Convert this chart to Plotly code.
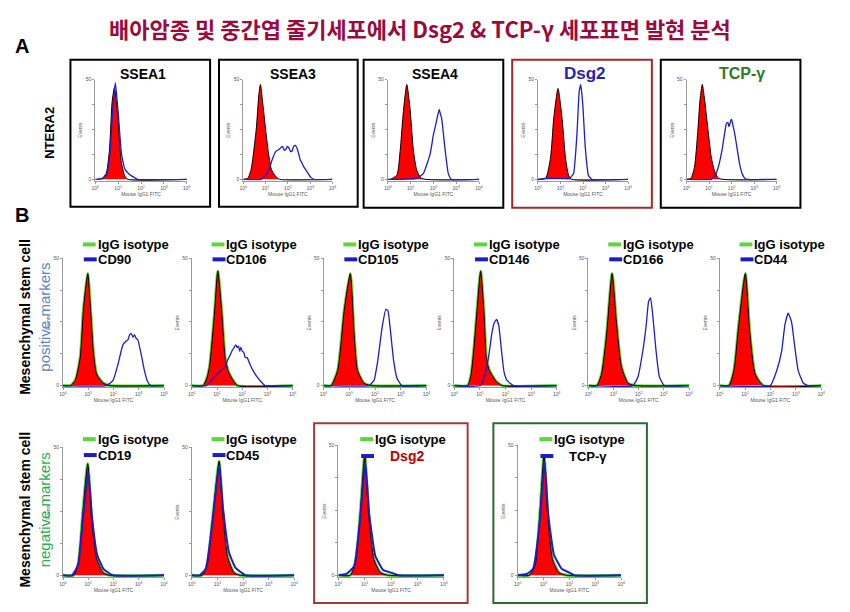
import plotly.graph_objects as go

# page body has an 8px margin: the figure is drawn 8px in from the window edge
PAGE_W, PAGE_H, OFF = 850, 612, 8
W, H = PAGE_W - OFF, PAGE_H - OFF

# ---------------- DATA (x in log10 decades of FITC intensity, y = relative events) -------------
# Panel A : NTERA2
ssea1_iso_x = [0.1, 0.3, 0.48, 0.62, 0.74, 0.84, 0.99, 1.13, 1.28, 1.42, 4.0]
ssea1_iso_y = [0, 1, 6, 29, 78, 92, 61, 19, 4, 0, 0]
ssea1_x = [0.0, 0.35, 0.5, 0.65, 0.78, 0.88, 1.0, 1.15, 1.3, 1.5, 1.7, 1.86, 4.0]
ssea1_y = [0, 1, 5, 28, 75, 97, 68, 25, 10, 5, 2, 0, 0]

ssea3_iso_x = [0.0, 0.2, 0.35, 0.58, 0.7, 0.77, 0.88, 1.0, 1.12, 1.26, 1.45, 1.63, 4.0]
ssea3_iso_y = [0, 1, 10, 50, 85, 95, 75, 50, 28, 10, 3, 0, 0]
ssea3_x = [0.0, 0.79, 1.0, 1.16, 1.3, 1.46, 1.6, 1.76, 1.84, 1.91, 1.98, 2.06, 2.12, 2.18, 2.26,
           2.33, 2.43, 2.55, 2.64, 2.73, 2.88, 3.03, 3.18, 4.0]
ssea3_y = [0, 0, 4, 10, 20, 28, 30, 33, 29, 30, 33, 31, 28, 28, 33, 34, 30, 20, 16, 12, 7, 2, 0, 0]

ssea4_iso_x = [0.0, 0.1, 0.39, 0.54, 0.68, 0.83, 0.97, 1.12, 1.27, 1.48, 4.0]
ssea4_iso_y = [0, 0, 4, 29, 68, 95, 71, 29, 9, 1, 0]
ssea4_x = [0.0, 1.27, 1.56, 1.85, 2.0, 2.07, 2.15, 2.25, 2.3, 2.36, 2.5, 2.65, 2.79, 4.0]
ssea4_y = [0, 1, 6, 25, 45, 52, 60, 70, 66, 61, 32, 6, 0, 0]

dsg2a_iso_x = [0.0, 0.34, 0.56, 0.7, 0.89, 1.07, 1.22, 1.36, 1.5, 4.0]
dsg2a_iso_y = [0, 1, 22, 61, 91, 61, 22, 4, 0, 0]
dsg2a_x = [0.0, 0.4, 1.0, 1.4, 1.58, 1.73, 1.83, 1.9, 1.99, 2.1, 2.24, 2.39, 4.0]
dsg2a_y = [0, 1, 1, 1, 6, 45, 88, 95, 75, 32, 4, 0, 0]

tcpa_iso_x = [0.0, 0.19, 0.35, 0.5, 0.6, 0.7, 0.8, 0.96, 1.1, 1.25, 1.43, 4.0]
tcpa_iso_y = [0, 1, 12, 48, 80, 95, 80, 48, 22, 8, 1, 0]
tcpa_x = [0.0, 1.1, 1.19, 1.3, 1.43, 1.58, 1.69, 1.77, 1.84, 1.88, 1.92, 1.96, 2.0, 2.05, 2.1,
          2.16, 2.25, 2.36, 2.48, 2.59, 2.7, 4.0]
tcpa_y = [0, 0, 2, 5, 14, 30, 46, 56, 57, 53, 55, 59, 60, 55, 50, 43, 30, 15, 5, 1, 0, 0]

# Panel B row 1 : MSC positive markers
cd90_iso_x = [0.0, 0.29, 0.48, 0.68, 0.81, 0.98, 1.09, 1.2, 1.33, 1.59, 1.85, 4.0]
cd90_iso_y = [0, 0, 4, 22, 60, 88, 60, 27, 9, 2, 0, 0]
cd90_x = [0.0, 1.72, 1.98, 2.18, 2.37, 2.5, 2.57, 2.64, 2.7, 2.77, 2.83, 2.9, 2.96, 3.09, 3.22, 3.35, 3.48, 4.0]
cd90_y = [0, 0, 4, 17, 32, 35, 36, 40, 41, 38, 40, 37, 36, 25, 12, 3, 0, 0]

cd106_iso_x = [0.0, 0.45, 0.6, 0.71, 0.9, 1.03, 1.19, 1.32, 1.45, 1.61, 1.81, 4.0]
cd106_iso_y = [0, 0, 6, 16, 57, 90, 57, 22, 11, 5, 0, 0]
cd106_x = [0.0, 0.58, 0.77, 0.97, 1.1, 1.16, 1.29, 1.42, 1.52, 1.61, 1.68, 1.74, 1.8, 1.85, 1.9, 1.94,
           2.0, 2.06, 2.12, 2.19, 2.32, 2.45, 2.58, 2.74, 2.9, 4.0]
cd106_y = [0, 0, 4, 8, 11, 12, 14, 20, 24, 28, 30, 32, 30, 31, 27, 30, 27, 26, 22, 22, 16, 11, 7, 3, 0, 0]

cd105_iso_x = [0.0, 0.29, 0.55, 0.81, 1.04, 1.19, 1.32, 1.57, 1.83, 4.0]
cd105_iso_y = [0, 0, 12, 60, 88, 40, 12, 2, 0, 0]
cd105_x = [0.0, 1.76, 1.96, 2.11, 2.27, 2.42, 2.5, 2.59, 2.72, 2.85, 3.04, 4.0]
cd105_y = [0, 0, 4, 20, 45, 60, 59, 45, 20, 6, 0, 0]

cd146_iso_x = [0.0, 0.52, 0.65, 0.77, 0.9, 1.03, 1.16, 1.25, 1.35, 1.48, 1.65, 1.87, 4.0]
cd146_iso_y = [0, 0, 8, 30, 62, 90, 57, 22, 13, 8, 3, 0, 0]
cd146_x = [0.0, 1.03, 1.23, 1.35, 1.46, 1.55, 1.65, 1.74, 1.83, 1.94, 2.06, 2.32, 4.0]
cd146_y = [0, 0, 11, 24, 40, 49, 52, 47, 30, 11, 4, 0, 0]

cd166_iso_x = [0.0, 0.33, 0.52, 0.72, 0.94, 1.11, 1.31, 1.57, 1.84, 4.0]
cd166_iso_y = [0, 0, 9, 40, 88, 50, 15, 2, 0, 0]
cd166_x = [0.0, 1.77, 1.97, 2.16, 2.3, 2.39, 2.47, 2.56, 2.69, 2.82, 3.02, 4.0]
cd166_y = [0, 0, 7, 27, 48, 66, 69, 55, 27, 7, 0, 0]

cd44_iso_x = [0.0, 0.36, 0.56, 0.75, 1.01, 1.18, 1.4, 1.73, 4.0]
cd44_iso_y = [0, 0, 12, 48, 88, 43, 9, 0, 0]
cd44_x = [0.0, 1.99, 2.25, 2.44, 2.57, 2.7, 2.83, 2.96, 3.09, 3.29, 3.48, 4.0]
cd44_y = [0, 0, 12, 27, 48, 57, 50, 30, 12, 2, 0, 0]

# Panel B row 2 : MSC negative markers
cd19_iso_x = [0.0, 0.42, 0.61, 0.78, 0.98, 1.13, 1.33, 1.59, 1.85, 4.0]
cd19_iso_y = [0, 0, 10, 48, 87, 43, 13, 2, 0, 0]
cd19_x = [0.0, 0.35, 0.6, 0.78, 1.0, 1.15, 1.35, 1.6, 1.8, 1.98, 4.0]
cd19_y = [0, 0, 8, 42, 81, 45, 16, 5, 2, 0, 0]

cd45_iso_x = [0.0, 0.4, 0.6, 0.8, 1.07, 1.2, 1.4, 1.65, 1.9, 4.0]
cd45_iso_y = [0, 0, 8, 42, 89, 50, 14, 2, 0, 0]
cd45_x = [0.0, 0.3, 0.55, 0.8, 1.07, 1.22, 1.45, 1.7, 1.95, 2.1, 4.0]
cd45_y = [0, 0, 5, 40, 86, 52, 18, 6, 2, 0, 0]

dsg2b_iso_x = [0.0, 0.45, 0.65, 0.82, 1.0, 1.15, 1.35, 1.6, 1.9, 4.0]
dsg2b_iso_y = [0, 0, 10, 45, 92, 45, 12, 2, 0, 0]
dsg2b_x = [0.0, 0.3, 0.6, 0.82, 1.02, 1.17, 1.4, 1.7, 2.0, 2.3, 4.0]
dsg2b_y = [0, 1, 7, 42, 87, 47, 15, 4, 2, 0, 0]

tcpb_iso_x = [0.0, 0.45, 0.68, 0.85, 1.02, 1.15, 1.35, 1.6, 1.9, 4.0]
tcpb_iso_y = [0, 0, 8, 45, 92, 48, 12, 2, 0, 0]
tcpb_x = [0.0, 0.35, 0.6, 0.85, 1.04, 1.18, 1.4, 1.7, 2.0, 2.2, 4.0]
tcpb_y = [0, 1, 5, 40, 88, 47, 16, 5, 2, 0, 0]

x_tick_vals = [0, 1, 2, 3, 4]
x_tick_text = ["10<sup>0</sup>", "10<sup>1</sup>", "10<sup>2</sup>", "10<sup>3</sup>", "10<sup>4</sup>"]
y_tick_vals = [0, 25, 50, 75, 100]
y_tick_text = ["0", "", "", "", "50"]

title_text = "배아암종 및 중간엽 줄기세포에서 Dsg2 & TCP-γ 세포표면 발현 분석"
a_titles = ["SSEA1", "SSEA3", "SSEA4", "Dsg2", "TCP-γ"]
b1_markers = ["CD90", "CD106", "CD105", "CD146", "CD166", "CD44"]
b2_markers = ["CD19", "CD45", "Dsg2", "TCP-γ"]

# ---------------- LAYOUT HELPERS ----------------
FONT = "Arial, Liberation Sans, sans-serif"
RED = "#ff0000"
BLUE = "#1c1cc8"
GREEN = "#5ad83a"


def fx(x):
    return (x - OFF) / W


def fy(y):
    return 1 - (y - OFF) / H


panels = [
    # (left, top, right, bottom) page px, iso, sample, green outline?
    ((92, 77, 184.5, 179), (ssea1_iso_x, ssea1_iso_y), (ssea1_x, ssea1_y), False),
    ((241.5, 77, 331.5, 179), (ssea3_iso_x, ssea3_iso_y), (ssea3_x, ssea3_y), False),
    ((387.5, 77, 479.5, 179), (ssea4_iso_x, ssea4_iso_y), (ssea4_x, ssea4_y), False),
    ((539, 77, 630, 179), (dsg2a_iso_x, dsg2a_iso_y), (dsg2a_x, dsg2a_y), False),
    ((689, 77, 780, 179), (tcpa_iso_x, tcpa_iso_y), (tcpa_x, tcpa_y), False),
    ((59.5, 257, 161.5, 387), (cd90_iso_x, cd90_iso_y), (cd90_x, cd90_y), True),
    ((189.5, 257, 291.5, 387), (cd106_iso_x, cd106_iso_y), (cd106_x, cd106_y), True),
    ((322.5, 257, 426.5, 387), (cd105_iso_x, cd105_iso_y), (cd105_x, cd105_y), True),
    ((454.5, 257, 558, 387), (cd146_iso_x, cd146_iso_y), (cd146_x, cd146_y), True),
    ((590, 257, 691.5, 387), (cd166_iso_x, cd166_iso_y), (cd166_x, cd166_y), True),
    ((722.5, 257, 825, 387), (cd44_iso_x, cd44_iso_y), (cd44_x, cd44_y), True),
    ((59.5, 447, 161.5, 578), (cd19_iso_x, cd19_iso_y), (cd19_x, cd19_y), True),
    ((189.5, 447, 293, 578), (cd45_iso_x, cd45_iso_y), (cd45_x, cd45_y), True),
    ((337.5, 445, 444, 578), (dsg2b_iso_x, dsg2b_iso_y), (dsg2b_x, dsg2b_y), True),
    ((518.5, 445, 623, 578), (tcpb_iso_x, tcpb_iso_y), (tcpb_x, tcpb_y), True),
]

fig = go.Figure()
layout = dict(
    width=W, height=H, margin=dict(l=0, r=0, t=0, b=0),
    paper_bgcolor="white", plot_bgcolor="white", showlegend=False,
    font=dict(family=FONT, color="black"),
)
shapes = []
annotations = []

for i, (rect, iso, samp, green) in enumerate(panels, start=1):
    xa = "x" if i == 1 else f"x{i}"
    ya = "y" if i == 1 else f"y{i}"
    l, t, r, b = rect
    if green:
        fig.add_trace(go.Scatter(x=iso[0], y=iso[1], xaxis=xa, yaxis=ya, mode="lines",
                                 line=dict(color=GREEN, width=3, shape="spline", smoothing=0.6),
                                 hoverinfo="skip"))
    fig.add_trace(go.Scatter(x=iso[0], y=iso[1], xaxis=xa, yaxis=ya, mode="lines", fill="tozeroy",
                             fillcolor=RED, line=dict(color="black", width=1, shape="spline", smoothing=0.6),
                             hoverinfo="skip"))
    fig.add_trace(go.Scatter(x=samp[0], y=samp[1], xaxis=xa, yaxis=ya, mode="lines",
                             line=dict(color=BLUE, width=2 if i >= 12 else 1.3,
                                       shape="spline", smoothing=0.4),
                             hoverinfo="skip"))
    key = "" if i == 1 else str(i)
    layout["xaxis" + key] = dict(
        domain=[fx(l), fx(r)], range=[0, 4], anchor=ya, showline=True, linecolor="#9a9a9a", linewidth=1,
        tickvals=x_tick_vals, ticktext=x_tick_text, tickfont=dict(size=5, color="#555"),
        ticks="outside", ticklen=2, tickcolor="#9a9a9a", showgrid=False, zeroline=False,
        title=dict(text="Mouse IgG1 FITC", font=dict(size=5, color="#555"), standoff=1),
    )
    layout["yaxis" + key] = dict(
        domain=[fy(b), fy(t)], range=[-1.5, 100], anchor=xa, showline=True, linecolor="#9a9a9a", linewidth=1,
        tickvals=y_tick_vals, ticktext=y_tick_text, tickfont=dict(size=5, color="#555"),
        ticks="outside", ticklen=2, tickcolor="#9a9a9a", showgrid=False, zeroline=False,
        title=dict(text="Events", font=dict(size=5, color="#555"), standoff=2),
    )

# ---- Panel A boxes and titles ----
a_boxes = [(67, 57, 208, 205), (217, 57, 357, 205), (363, 57, 504, 206), (513, 57, 654, 206), (663, 57, 804, 206)]
a_box_colors = ["black", "black", "black", "#a3282b", "black"]
a_title_x = [140, 292, 435, 587, 745]
a_title_colors = ["black", "black", "black", "#2323b5", "#2f7a1f"]
a_title_sizes = [14, 14, 14, 17, 16]
for (l, t, r, b), c in zip(a_boxes, a_box_colors):
    shapes.append(dict(type="rect", xref="paper", yref="paper", x0=fx(l), x1=fx(r), y0=fy(b), y1=fy(t),
                       line=dict(color=c, width=2)))
for txt, x, c, s in zip(a_titles, a_title_x, a_title_colors, a_title_sizes):
    annotations.append(dict(text=f"<b>{txt}</b>", x=fx(x), y=fy(71), xref="paper", yref="paper",
                            showarrow=False, font=dict(size=s, color=c, family=FONT),
                            xanchor="center", yanchor="middle"))

# ---- Panel B row-2 coloured boxes ----
shapes.append(dict(type="rect", xref="paper", yref="paper", x0=fx(313), x1=fx(468), y0=fy(604), y1=fy(423),
                   line=dict(color="#a33a3a", width=2)))
shapes.append(dict(type="rect", xref="paper", yref="paper", x0=fx(494), x1=fx(649), y0=fy(604), y1=fy(423),
                   line=dict(color="#2d6a2d", width=2)))


# ---- legends ----
def legend(left, y1, y2, marker, marker_color="black", marker_dx=33, line_x0=20, line_x1=33):
    shapes.append(dict(type="line", xref="paper", yref="paper", x0=fx(left + line_x0), x1=fx(left + line_x1),
                       y0=fy(y1), y1=fy(y1), line=dict(color=GREEN, width=4)))
    shapes.append(dict(type="line", xref="paper", yref="paper", x0=fx(left + line_x0 + 1), x1=fx(left + line_x1 + 1),
                       y0=fy(y2), y1=fy(y2), line=dict(color=BLUE, width=4)))
    annotations.append(dict(text="<b>IgG isotype</b>", x=fx(left + line_x1), y=fy(y1), xref="paper", yref="paper",
                            showarrow=False, xanchor="left", yanchor="middle",
                            font=dict(size=13, color="black", family=FONT)))
    annotations.append(dict(text=f"<b>{marker}</b>", x=fx(left + marker_dx), y=fy(y2), xref="paper", yref="paper",
                            showarrow=False, xanchor="left", yanchor="middle",
                            font=dict(size=13 if marker_color == "black" else 14, color=marker_color, family=FONT)))


b1_lefts = [59.5, 189.5, 322.5, 454.5, 590, 722.5]
for left, m in zip(b1_lefts, b1_markers):
    legend(left, 243, 258, m)
legend(59.5, 439, 455, b2_markers[0])
legend(189.5, 439, 455, b2_markers[1])
legend(337.5, 439, 456, b2_markers[2], marker_color="#c00000", marker_dx=50, line_x0=22, line_x1=35)
legend(518.5, 439, 456, b2_markers[3], marker_dx=50, line_x0=22, line_x1=35)

# ---- titles and row labels ----
annotations.append(dict(text=f"<b>{title_text}</b>", x=fx(420), y=fy(8), xref="paper", yref="paper",
                        showarrow=False, xanchor="center", yanchor="top", borderpad=0,
                        font=dict(size=22, color="#9b0a3c", family="Noto Sans CJK KR")))
for lab, y in [("A", 43), ("B", 213)]:
    annotations.append(dict(text=f"<b>{lab}</b>", x=fx(9), y=fy(y), xref="paper", yref="paper",
                            showarrow=False, xanchor="left", yanchor="middle",
                            font=dict(size=20, color="black", family=FONT)))
annotations.append(dict(text="<b>NTERA2</b>", x=fx(46), y=fy(131), xref="paper", yref="paper", textangle=-90,
                        showarrow=False, xanchor="center", yanchor="middle",
                        font=dict(size=13, color="black", family=FONT)))
for yc, sub, col in [(316, "positive markers", "#5b86c4"), (510, "negative markers", "#1fae4f")]:
    annotations.append(dict(text="<b>Mesenchymal stem cell</b>", x=fx(21), y=fy(yc), xref="paper", yref="paper",
                            textangle=-90, showarrow=False, xanchor="center", yanchor="middle",
                            font=dict(size=14, color="black", family=FONT)))
    annotations.append(dict(text=sub, x=fx(41), y=fy(yc), xref="paper", yref="paper",
                            textangle=-90, showarrow=False, xanchor="center", yanchor="middle",
                            font=dict(size=15, color=col, family=FONT)))

layout["shapes"] = shapes
layout["annotations"] = annotations
fig.update_layout(**layout)
fig.write_html("out.html")
